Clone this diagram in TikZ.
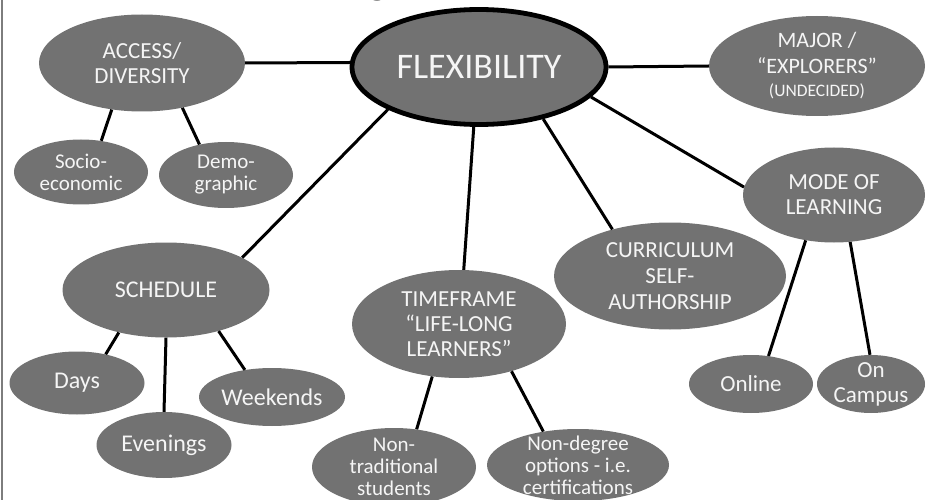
\documentclass[tikz,border=0pt]{standalone}
\usepackage{fontspec}
\setmainfont{Carlito}
\usetikzlibrary{shapes.geometric}
\definecolor{bubblegray}{RGB}{114,114,114}
\definecolor{framegray}{RGB}{125,125,125}

\begin{document}
\begin{tikzpicture}[x=1pt, y=-1pt,
    bubble/.style={ellipse, fill=bubblegray, text=white!96!black, inner sep=-8pt, align=center},
    big/.style={font=\fontsize{23}{25}\selectfont},
    small/.style={font=\fontsize{21}{22}\selectfont},
    link/.style={line width=3pt}]
\useasboundingbox (0,0) rectangle (927,500);

% Frame and cut title
\draw [framegray, line width=1.5pt] (2,0) -- (2,500);
\begin{scope}
    \clip (0,0) rectangle (927,500);
    \node [anchor=base west, inner sep=0pt, font=\bfseries\fontsize{44}{48}\selectfont] (title) at (73,-6) {Flexibility Strategy Map};
\end{scope}

% Centre
\node [bubble, draw=black, line width=4.8pt, minimum width=254pt, minimum height=115pt, font=\fontsize{36}{40}\selectfont] (flex) at (479,67) {FLEXIBILITY};

% Main topics
\node [bubble, big, minimum width=206pt, minimum height=97pt] (access) at (142,63) {ACCESS/\\DIVERSITY};
\node [bubble, font=\fontsize{22}{26}\selectfont, minimum width=216pt, minimum height=100pt] (major) at (817,66) {MAJOR /\\“EXPLORERS”\\[-3pt]{\fontsize{17.5}{19}\selectfont (UNDECIDED)}};
\node [bubble, big, minimum width=182pt, minimum height=95pt] (mode) at (834,195) {MODE OF\\LEARNING};
\node [bubble, font=\fontsize{23}{26}\selectfont, minimum width=232pt, minimum height=107pt] (curr) at (670,276) {CURRICULUM\\SELF-\\AUTHORSHIP};
\node [bubble, font=\fontsize{24}{26}\selectfont, minimum width=207pt, minimum height=95pt] (sched) at (166,290) {SCHEDULE};
\node [bubble, big, minimum width=214pt, minimum height=108pt] (time) at (459,324) {TIMEFRAME\\“LIFE-LONG\\LEARNERS”};

% Sub topics
\node [bubble, small, minimum width=134pt, minimum height=65pt] (socio) at (81,172) {Socio-\\economic};
\node [bubble, small, minimum width=134pt, minimum height=66pt] (demo) at (226,175) {Demo-\\graphic};
\node [bubble, font=\fontsize{24}{26}\selectfont, minimum width=135pt, minimum height=63pt] (days) at (77,383) {Days};
\node [bubble, font=\fontsize{24}{26}\selectfont, minimum width=146pt, minimum height=58pt] (week) at (272,397) {Weekends};
\node [bubble, font=\fontsize{24}{26}\selectfont, minimum width=135pt, minimum height=66pt] (even) at (164,445) {Evenings};
\node [bubble, small, minimum width=164pt, minimum height=78pt] (nontrad) at (394,467) {Non-\\traditional\\students};
\node [bubble, small, minimum width=182pt, minimum height=72pt] (nondeg) at (578,465) {Non-degree\\options - i.e.\\certifications};
\node [bubble, big, minimum width=124pt, minimum height=58pt] (online) at (751,384) {Online};
\node [bubble, big, minimum width=108pt, minimum height=58pt] (campus) at (871,384) {On\\Campus};

% Links from the centre
\draw [link] (flex.178) -- (access.0);
\draw [link] (flex.east) -- (major.west);
\draw [link] (flex.205) -- (sched.23);
\draw [link] (flex.265) -- (time.85);
\draw [link] (flex.321) -- (curr.141);
\draw [link] (flex.345) -- (mode.175);

% Links to sub topics
\draw [link] (access.237) -- (socio.57);
\draw [link] (access.312) -- (demo.131);
\draw [link] (sched.222) -- (days.45);
\draw [link] (sched.south) -- (even.north);
\draw [link] (sched.322) -- (week.135);
\draw [link] (time.243) -- (nontrad.59);
\draw [link] (time.318) -- (nondeg.136);
\draw [link] (mode.238) -- (online.58);
\draw [link] (mode.289) -- (campus.92);
\end{tikzpicture}
\end{document}
